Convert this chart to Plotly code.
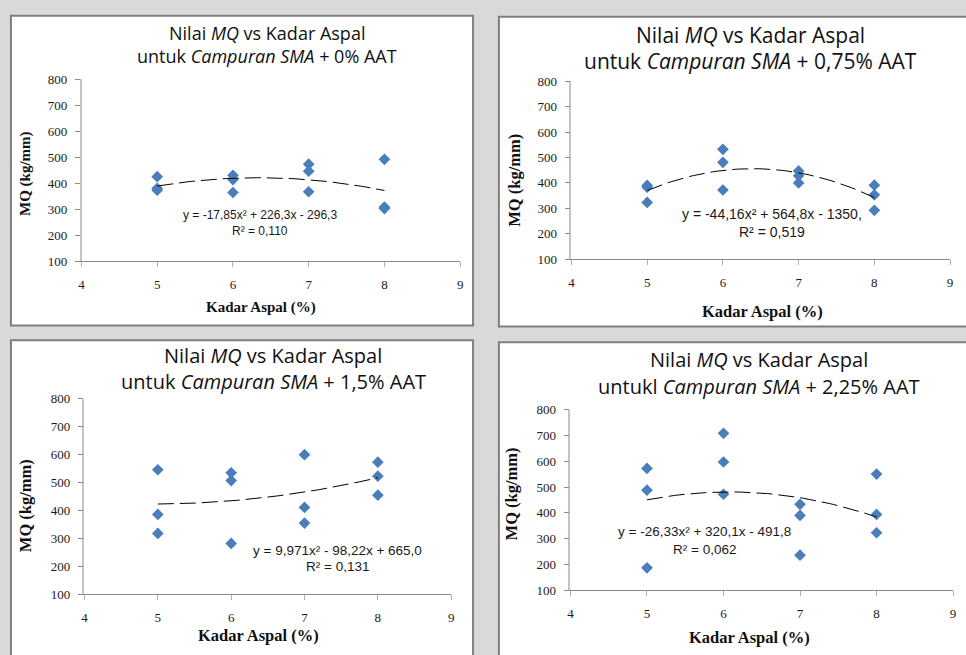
import numpy as np
import plotly.graph_objects as go

# --- data -------------------------------------------------------------
kadar_aspal = [5, 5, 5, 6, 6, 6, 7, 7, 7, 8, 8, 8]

mq_aat_0 = [425, 380, 373, 430, 414, 364, 473, 446, 367, 492, 308, 302]
mq_aat_075 = [390, 383, 323, 532, 481, 372, 447, 428, 400, 391, 353, 292]
mq_aat_15 = [546, 386, 318, 535, 507, 282, 600, 411, 355, 573, 523, 455]
mq_aat_225 = [572, 488, 187, 708, 597, 472, 433, 390, 236, 550, 394, 323]

# polynomial trendline coefficients (a, b, c) for y = a x^2 + b x + c
coef_aat_0 = [-17.85, 226.3, -296.3]
coef_aat_075 = [-44.16, 564.8, -1350.0]
coef_aat_15 = [9.971, -98.22, 665.0]
coef_aat_225 = [-26.33, 320.1, -491.8]

eq_aat_0 = ["y = -17,85x² + 226,3x - 296,3", "R² = 0,110"]
eq_aat_075 = ["y = -44,16x² + 564,8x - 1350,", "R² = 0,519"]
eq_aat_15 = ["y = 9,971x² - 98,22x + 665,0", "R² = 0,131"]
eq_aat_225 = ["y = -26,33x² + 320,1x - 491,8", "R² = 0,062"]

titles_line1 = ["Nilai <i>MQ</i> vs Kadar Aspal"] * 4
titles_line2 = [
    "untuk <i>Campuran SMA</i> + 0% AAT",
    "untuk <i>Campuran SMA</i> + 0,75% AAT",
    "untuk <i>Campuran SMA</i> + 1,5% AAT",
    "untukl <i>Campuran SMA</i> + 2,25% AAT",
]

x_ticks = [4, 5, 6, 7, 8, 9]
y_ticks = [100, 200, 300, 400, 500, 600, 700, 800]
x_title = "Kadar Aspal (%)"
y_title = "MQ (kg/mm)"

series = [mq_aat_0, mq_aat_075, mq_aat_15, mq_aat_225]
coefs = [coef_aat_0, coef_aat_075, coef_aat_15, coef_aat_225]
equations = [eq_aat_0, eq_aat_075, eq_aat_15, eq_aat_225]

# --- layout geometry (pixels) ----------------------------------------
W, H = 966, 655


def fx(p):
    return p / W


def fy(p):
    return 1 - p / H


# each panel: frame box, plot box, title centre/lines and size,
# axis-title spots and size, equation spot and size
panels = [
    dict(frame=(8, 9, 473, 326), plot=(79, 74, 460, 260), tsize=18,
         tx=266, ty=(27, 50), ylab=(22, 170), xlab=(260, 308), asize=15,
         eq=(259, 213, 229), esize=12),
    dict(frame=(499, 10, 980, 327), plot=(572, 76, 953, 258), tsize=21,
         tx=752, ty=(29, 55), ylab=(515, 177), xlab=(764, 312), asize=16.5,
         eq=(774, 212, 230), esize=14),
    dict(frame=(8, 341, 473, 670), plot=(82, 401, 451, 601), tsize=20,
         tx=272, ty=(357, 383), ylab=(22, 510), xlab=(257, 643), asize=16.5,
         eq=(337, 556, 573), esize=13.5),
    dict(frame=(499, 343, 980, 670), plot=(571, 412, 956, 597), tsize=20,
         tx=761, ty=(361, 388), ylab=(512, 498), xlab=(751, 645), asize=16.5,
         eq=(706, 537, 555), esize=13.5),
]

MARKER = "#4a7ebb"
TITLE_FONT = "Comic Sans MS, Open Sans, sans-serif"
SERIF = "Liberation Serif, Times New Roman, serif"
EQ_FONT = "Liberation Sans, Arial, sans-serif"

fig = go.Figure()
shapes, annotations = [], []
layout_axes = {}

for i, (pan, ys, cf, eq) in enumerate(zip(panels, series, coefs, equations)):
    n = "" if i == 0 else str(i + 1)
    xa, ya = "x" + n, "y" + n

    # scatter points
    fig.add_trace(go.Scatter(
        x=kadar_aspal, y=ys, mode="markers", xaxis=xa, yaxis=ya,
        marker=dict(symbol="diamond", size=9, color=MARKER,
                    line=dict(width=0)),
        showlegend=False, hoverinfo="x+y",
    ))

    # polynomial trendline from the stated equation
    xt = np.linspace(min(kadar_aspal), max(kadar_aspal), 60)
    yt = np.polyval(cf, xt)
    fig.add_trace(go.Scatter(
        x=xt, y=yt, mode="lines", xaxis=xa, yaxis=ya,
        line=dict(color="black", width=1, dash="16px,6px"),
        showlegend=False, hoverinfo="skip",
    ))

    x0, y0, x1, y1 = pan["plot"]
    layout_axes["xaxis" + n] = dict(
        domain=[fx(x0), fx(x1)], range=[4, 9], anchor=ya,
        tickvals=x_ticks, ticks="outside", ticklen=5, tickcolor="#b0b0b0",
        showline=True, linecolor="#8a8a8a", linewidth=1.3,
        showgrid=False, zeroline=False, ticklabelstandoff=6,
        tickfont=dict(family=SERIF, size=13, color="#1a1a1a"),
    )
    layout_axes["yaxis" + n] = dict(
        domain=[fy(y1), fy(y0)], range=[100, 800], anchor=xa,
        tickvals=y_ticks, ticks="outside", ticklen=5, tickcolor="#8a8a8a",
        showline=True, linecolor="#c4c4c4", linewidth=1.5,
        showgrid=False, zeroline=False, ticklabelstandoff=5,
        tickfont=dict(family=SERIF, size=13, color="#1a1a1a"),
    )

    # panel frame
    fx0, fy0, fx1, fy1 = pan["frame"]
    shapes.append(dict(
        type="rect", xref="paper", yref="paper", layer="below",
        x0=fx(fx0), x1=fx(fx1), y0=fy(fy1), y1=fy(fy0),
        fillcolor="white", line=dict(color="#7f7f7f", width=2),
    ))

    # two-line title
    for txt, ty in zip((titles_line1[i], titles_line2[i]), pan["ty"]):
        annotations.append(dict(
            text=txt, x=fx(pan["tx"]), y=fy(ty), xref="paper", yref="paper",
            xanchor="center", yanchor="middle", showarrow=False,
            font=dict(family=TITLE_FONT, size=pan["tsize"], color="#111"),
        ))

    # axis titles
    annotations.append(dict(
        text="<b>" + y_title + "</b>", x=fx(pan["ylab"][0]), y=fy(pan["ylab"][1]),
        xref="paper", yref="paper", xanchor="center", yanchor="middle",
        textangle=-90, showarrow=False,
        font=dict(family=SERIF, size=pan["asize"], color="#111"),
    ))
    annotations.append(dict(
        text="<b>" + x_title + "</b>", x=fx(pan["xlab"][0]), y=fy(pan["xlab"][1]),
        xref="paper", yref="paper", xanchor="center", yanchor="middle",
        showarrow=False, font=dict(family=SERIF, size=pan["asize"], color="#111"),
    ))

    # trendline equation and R²
    ex, ey1, ey2 = pan["eq"]
    for txt, ey in zip(eq, (ey1, ey2)):
        annotations.append(dict(
            text=txt, x=fx(ex), y=fy(ey), xref="paper", yref="paper",
            xanchor="center", yanchor="middle", showarrow=False,
            font=dict(family=EQ_FONT, size=pan["esize"], color="#1a1a1a"),
        ))

fig.update_layout(
    width=W, height=H, autosize=False,
    margin=dict(l=0, r=0, t=0, b=0),
    paper_bgcolor="#d9d9d9", plot_bgcolor="rgba(0,0,0,0)",
    shapes=shapes, annotations=annotations,
    **layout_axes,
)

fig.write_html("out.html")
